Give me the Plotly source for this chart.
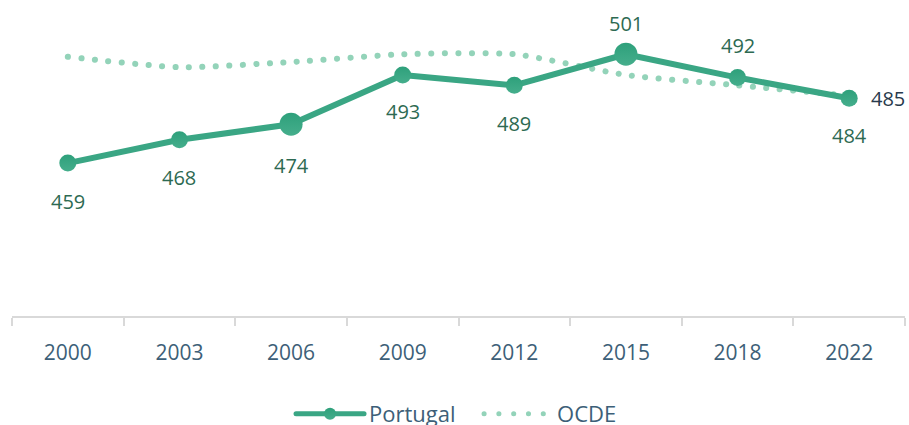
import plotly.graph_objects as go

years = ["2000", "2003", "2006", "2009", "2012", "2015", "2018", "2022"]
portugal = [459, 468, 474, 493, 489, 501, 492, 484]
ocde = [500, 496, 498, 501, 501, 493, 489, 485]

# style
marker_sizes = [17, 17, 23, 17, 17, 23, 17, 17]
label_shift = [-38, -38, -41, -37, -38, 31, 32, -37]
C_PT = "#3aa684"
C_OCDE = "#93d3b9"
FONT = "Open Sans"

fig = go.Figure()
fig.add_trace(go.Scatter(
    x=years, y=ocde, name="OCDE", mode="lines",
    line=dict(color=C_OCDE, width=6, dash="dot", shape="spline", smoothing=0.6),
))
fig.add_trace(go.Scatter(
    x=years, y=portugal, name="Portugal", mode="lines+markers",
    line=dict(color=C_PT, width=6),
    marker=dict(size=marker_sizes, color="#2ea07b",
                gradient=dict(type="vertical", color="#45ae8c"),
                line=dict(width=0), opacity=1),
))

for i, (v, s) in enumerate(zip(portugal, label_shift)):
    fig.add_annotation(x=i, y=v, xref="x", yref="y", text=str(v), showarrow=False, yshift=s,
                       font=dict(family=FONT, size=20, color="#2d6a52"))
fig.add_annotation(x=len(years) - 1, y=ocde[-1], xref="x", yref="y", text=str(ocde[-1]),
                   showarrow=False, xshift=39, yshift=-3,
                   font=dict(family=FONT, size=20, color="#283a4c"))

fig.update_layout(
    width=909, height=425,
    margin=dict(l=12, r=4, t=5, b=109, autoexpand=False),
    paper_bgcolor="white", plot_bgcolor="white",
    showlegend=True,
    legend=dict(orientation="h", x=0.523, xanchor="center", y=-0.315, yanchor="middle",
                traceorder="reversed", itemwidth=68, itemsizing="constant",
                entrywidth=105,
                font=dict(family=FONT, size=22, color="#3d5f78")),
    xaxis=dict(type="category", range=[-0.5, 7.5], showgrid=False, zeroline=False,
               showline=True, linecolor="#d9d9d9", linewidth=2,
               ticks="outside", tickson="boundaries", ticklen=8, tickcolor="#d9d9d9",
               tickwidth=2, ticklabelstandoff=17,
               tickfont=dict(family=FONT, size=21, color="#3d5f78")),
    yaxis=dict(range=[400, 520], visible=False, showgrid=False, zeroline=False),
)

post = """
document.body.style.margin='0';
document.body.style.padding='0';
function fixDots(){
  var gd = document.getElementById('{plot_id}');
  var lines = gd.querySelectorAll('g.trace.scatter');
  lines.forEach(function(g, i){
    if(i===0){
      g.querySelectorAll('path.js-line').forEach(function(p){
        p.style.strokeLinecap='round';
        p.style.strokeDasharray='0.1px,13.4px';
      });
    } else {
      g.querySelectorAll('path.js-line').forEach(function(p){
        p.style.strokeLinecap='round';
        p.style.strokeLinejoin='round';
      });
    }
  });
  var leg = gd.querySelectorAll('g.legend g.traces');
  leg.forEach(function(g){
    var t = g.querySelector('text.legendtext');
    var name = t ? t.textContent : '';
    g.querySelectorAll('path.js-line').forEach(function(p){
      p.style.strokeLinecap='round';
      if(name==='OCDE'){ p.style.strokeDasharray='0.1px,14.7px'; }
    });
  });
}
fixDots();
var gdd = document.getElementById('{plot_id}');
if (gdd.on) { gdd.on('plotly_afterplot', fixDots); }
"""
fig.write_html("out.html", post_script=post, config={"displayModeBar": False})
